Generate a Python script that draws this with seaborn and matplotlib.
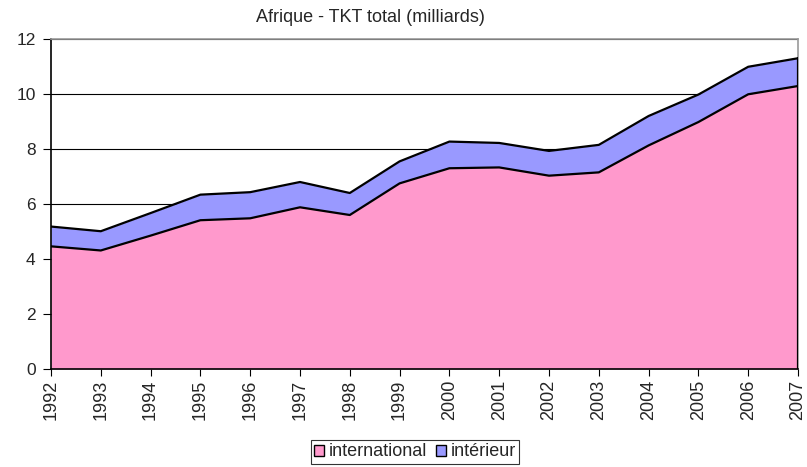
import numpy as np
import pandas as pd
import matplotlib
matplotlib.use("Agg")
import matplotlib.pyplot as plt
import seaborn as sns
from matplotlib.patches import Patch

# Données (milliards de TKT)
years = [1992, 1993, 1994, 1995, 1996, 1997, 1998, 1999,
         2000, 2001, 2002, 2003, 2004, 2005, 2006, 2007]
international = [4.46, 4.31, 4.85, 5.41, 5.48, 5.88, 5.60, 6.75,
                 7.30, 7.33, 7.03, 7.15, 8.13, 8.98, 9.99, 10.29]
interieur = [0.72, 0.70, 0.82, 0.93, 0.95, 0.92, 0.80, 0.80,
             0.97, 0.89, 0.90, 1.00, 1.07, 1.00, 1.00, 1.01]

df = pd.DataFrame({"annee": years, "international": international, "interieur": interieur})
df["total"] = df["international"] + df["interieur"]

sns.set_style("white")
plt.rcParams["font.family"] = ["Liberation Sans", "DejaVu Sans"]

fig = plt.figure(figsize=(8.07, 4.67), dpi=100)
ax = fig.add_axes([51 / 807, 1 - 369 / 467, (798 - 51) / 807, (369 - 39) / 467])

# surfaces empilées
ax.fill_between(df["annee"], 0, df["international"], color="#FF99CC", zorder=2, lw=0)
ax.fill_between(df["annee"], df["international"], df["total"], color="#9999FF", zorder=2, lw=0)

# contours noirs
sns.lineplot(data=df, x="annee", y="international", color="black", lw=1.6, ax=ax, zorder=3)
sns.lineplot(data=df, x="annee", y="total", color="black", lw=1.6, ax=ax, zorder=3)
ax.plot([years[-1], years[-1]], [0, df["total"].iloc[-1]], color="black", lw=1.6, zorder=3)

ax.set_xlim(years[0], years[-1])
ax.set_ylim(0, 12)
ax.set_yticks(range(0, 13, 2))
ax.set_xticks(years)
ax.set_xticklabels([str(y) for y in years], rotation=90, fontsize=13)
ax.tick_params(axis="y", labelsize=12.5, length=6, pad=5)
ax.tick_params(axis="x", length=5, pad=3)
ax.tick_params(axis="both", direction="out", width=0.8, color="black", left=True, bottom=True)
ax.set_xlabel("")
ax.set_ylabel("")

ax.yaxis.grid(True, color="black", lw=0.8, zorder=1)
ax.set_axisbelow(True)
for s in ["left", "bottom"]:
    ax.spines[s].set_color("black")
    ax.spines[s].set_linewidth(1.2)
for s in ["top", "right"]:
    ax.spines[s].set_color("#999999")
    ax.spines[s].set_linewidth(1.2)

fig.text(370 / 807, 1 - 17 / 467, "Afrique - TKT total (milliards)", ha="center", va="center", fontsize=13)

handles = [Patch(facecolor="#FF99CC", edgecolor="black", label="international"),
           Patch(facecolor="#9999FF", edgecolor="black", label="intérieur")]
leg = fig.legend(handles=handles, loc="center", bbox_to_anchor=(415 / 807, 1 - 452 / 467), ncol=2,
                 frameon=True, fancybox=False, fontsize=13, handlelength=0.55, handleheight=0.55,
                 handletextpad=0.25, columnspacing=0.5, borderpad=0.2, borderaxespad=0)
leg.get_frame().set_edgecolor("black")
leg.get_frame().set_linewidth(0.8)

fig.savefig("out.png", dpi=100)
